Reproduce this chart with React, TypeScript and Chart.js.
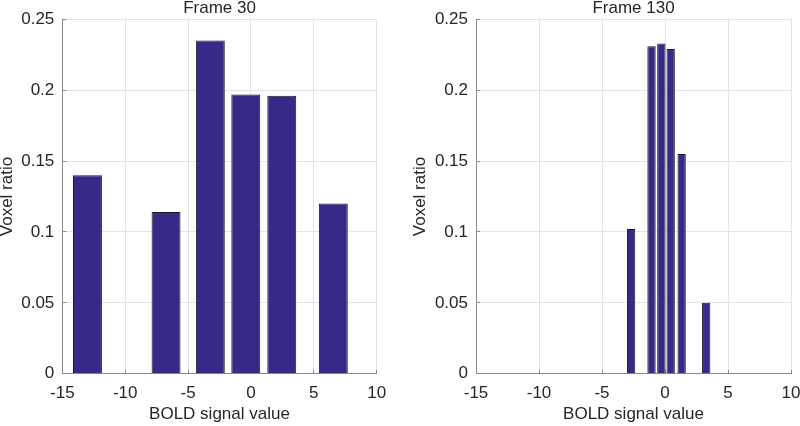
import React, { useEffect, useRef } from 'react';
import { Chart, registerables } from 'chart.js';

Chart.register(...registerables);

// ---- data ----
const xTickMin = -15;
const xTickMax = 10;
const xTickStep = 5;
const yTickMax = 0.25;
const yTickStep = 0.05;

const frame30Centers = [-13.0, -6.75, -3.23, -0.41, 2.45, 6.55];
const frame30Ratios = [0.14, 0.114, 0.235, 0.197, 0.196, 0.12];
const frame30BarWidth = 2.3;

const frame130Centers = [-2.69, -1.07, -0.29, 0.45, 1.32, 3.27];
const frame130Ratios = [0.102, 0.231, 0.233, 0.229, 0.155, 0.05];
const frame130BarWidth = 0.66;

const panelTitles = ['Frame 30', 'Frame 130'];
const xAxisTitle = 'BOLD signal value';
const yAxisTitle = 'Voxel ratio';

// ---- styles ----
const FONT = "'Liberation Sans', Arial, Helvetica, sans-serif";
const TEXT = '#262626';
const BAR_FILL = '#352a87';
const BAR_EDGE = '#1a1a1a';
const GRID = '#e4e4e4';
const AXIS = '#8a8a8a';

type Panel = {
  title: string;
  centers: number[];
  ratios: number[];
  barWidth: number;
  padLeft: number;
  yAxisWidth: number;
  padRight: number;
};

const panels: Panel[] = [
  { title: panelTitles[0], centers: frame30Centers, ratios: frame30Ratios, barWidth: frame30BarWidth, padLeft: 0, yAxisWidth: 62.3, padRight: 23.3 },
  { title: panelTitles[1], centers: frame130Centers, ratios: frame130Ratios, barWidth: frame130BarWidth, padLeft: 12.6, yAxisWidth: 63.4, padRight: 9 },
];

function minGap(values: number[]): number {
  const s = [...values].sort((a, b) => a - b);
  let m = Infinity;
  for (let i = 1; i < s.length; i++) m = Math.min(m, s[i] - s[i - 1]);
  return Math.min(m, xTickStep);
}

function HistPanel({ panel, left }: { panel: Panel; left: number }) {
  const ref = useRef<HTMLCanvasElement | null>(null);
  useEffect(() => {
    if (!ref.current) return;
    const data = panel.centers.map((x, i) => ({ x, y: panel.ratios[i] }));
    const chart = new Chart(ref.current, {
      type: 'bar',
      data: {
        datasets: [
          {
            data: data as any,
            backgroundColor: BAR_FILL,
            borderColor: BAR_EDGE,
            borderWidth: 1,
            categoryPercentage: 1,
            barPercentage: panel.barWidth / minGap(panel.centers),
          },
        ],
      },
      options: {
        animation: false,
        responsive: false,
        devicePixelRatio: 1,
        layout: { padding: { left: panel.padLeft, right: panel.padRight, top: 0, bottom: 0 } },
        plugins: {
          legend: { display: false },
          tooltip: { enabled: false },
          title: {
            display: true,
            text: panel.title,
            fullSize: false,
            color: TEXT,
            font: { family: FONT, size: 17, weight: 'normal', lineHeight: 0.8 },
            padding: { top: 1.8, bottom: 3.9 },
          },
        },
        scales: {
          x: {
            type: 'linear',
            offset: false,
            min: xTickMin,
            max: xTickMax,
            ticks: {
              stepSize: xTickStep,
              color: TEXT,
              font: { family: FONT, size: 17 },
              padding: 13.5,
              maxRotation: 0,
              callback: (v: any) => String(v),
            },
            grid: { offset: false, color: GRID, tickColor: AXIS, tickLength: -4, drawTicks: true },
            border: { color: AXIS, width: 1 },
            title: {
              display: true,
              text: xAxisTitle,
              color: TEXT,
              font: { family: FONT, size: 17, lineHeight: 1 },
              padding: { top: 0, bottom: 2.7 },
            },
            afterFit: (s: any) => {
              s.height = 52.3;
              s.paddingLeft = 0;
              s.paddingRight = 0;
            },
          },
          y: {
            type: 'linear',
            min: 0,
            max: yTickMax,
            ticks: {
              stepSize: yTickStep,
              color: TEXT,
              font: { family: FONT, size: 17 },
              padding: 12,
              callback: (v: any) => String(Math.round(Number(v) * 100) / 100),
            },
            grid: { color: GRID, tickColor: AXIS, tickLength: -4, drawTicks: true },
            border: { color: AXIS, width: 1 },
            title: {
              display: true,
              text: yAxisTitle,
              color: TEXT,
              font: { family: FONT, size: 17, lineHeight: 0.87 },
              padding: { top: 0, bottom: 0 },
            },
            afterFit: (s: any) => {
              s.width = panel.yAxisWidth;
              s.paddingTop = 0;
              s.paddingBottom = 0;
            },
          },
        },
      } as any,
    });
    return () => chart.destroy();
  }, [panel]);
  return (
    <canvas
      ref={ref}
      width={400}
      height={426}
      style={{ position: 'absolute', left, top: 0, width: 400, height: 426, display: 'block' }}
    />
  );
}

export default function App() {
  return (
    <div
      style={{
        position: 'fixed',
        left: 0,
        top: 0,
        width: 800,
        height: 426,
        overflow: 'hidden',
        background: '#ffffff',
      }}
    >
      <HistPanel panel={panels[0]} left={0} />
      <HistPanel panel={panels[1]} left={400} />
    </div>
  );
}
